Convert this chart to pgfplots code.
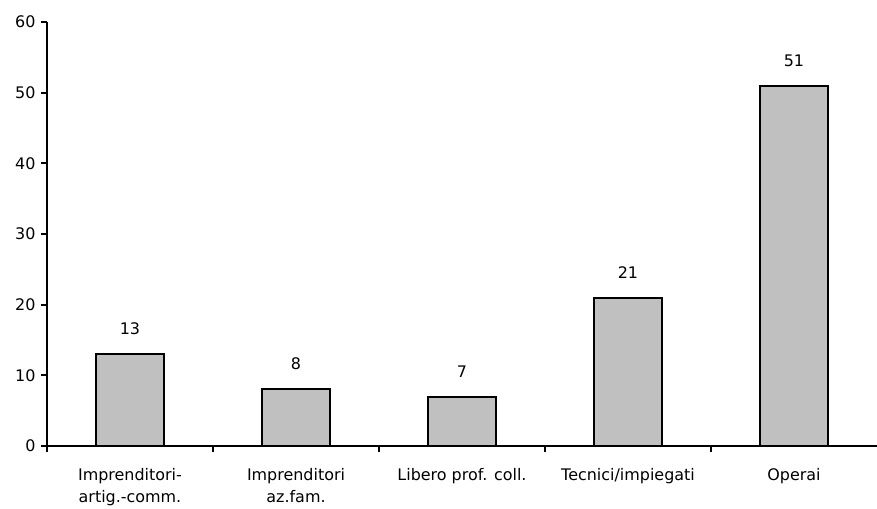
\documentclass[border=0pt]{standalone}
\usepackage{pgfplots}
\pgfplotsset{compat=1.18}
\usepackage{fontspec}
\setmainfont{DejaVu Sans}
\definecolor{bargray}{HTML}{C0C0C0}
\begin{document}
\begin{tikzpicture}
\begin{axis}[
    at={(0,0)}, anchor=south west,
    scale only axis,
    width=830bp, height=424bp,
    xmin=-0.5, xmax=4.5,
    ymin=0, ymax=60,
    axis x line=bottom, axis y line=left,
    axis line style={line width=2bp, -},
    ytick={0,10,...,60},
    xtick={0,1,2,3,4},
    xticklabels={{Imprenditori-\\artig.-comm.},{Imprenditori\\az.fam.},{Libero prof. coll.},{Tecnici/impiegati},{Operai}},
    xticklabel style={align=center, font=\fontsize{16}{22}\selectfont, yshift=-13bp},
    major x tick style={draw=none},
    minor xtick={-0.5,0.5,1.5,2.5,3.5},
    tick align=outside,
    major tick length=6bp, minor tick length=6bp,
    every tick/.style={line width=2bp, black},
    yticklabel style={font=\fontsize{16}{19}\selectfont, xshift=-2bp},
    /pgf/number format/assume math mode=true,
    ybar, bar width=68bp,
    nodes near coords,
    every node near coord/.append style={font=\fontsize{16}{19}\selectfont, yshift=15bp},
    clip=false,
]
\addplot[fill=bargray, draw=black, line width=2bp] coordinates {
    (0,13) (1,8) (2,7) (3,21) (4,51)
};
\end{axis}
\pgfresetboundingbox
\useasboundingbox (-47bp,-63bp) rectangle (830bp,446bp);
\end{tikzpicture}
\end{document}
